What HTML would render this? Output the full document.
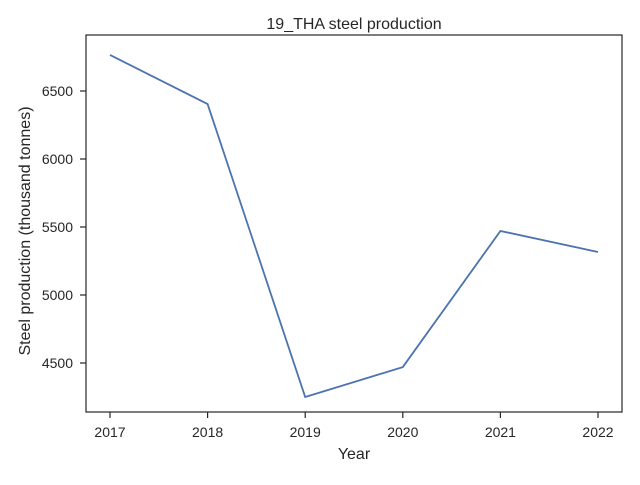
<!DOCTYPE html>
<html><head><meta charset="utf-8"><style>
body{margin:0;background:#fff;}
svg text{font-family:"Liberation Sans","DejaVu Sans",sans-serif;fill:#262626;}
</style></head><body>
<svg id="chart" width="640" height="480" xmlns="http://www.w3.org/2000/svg">
<rect width="640" height="480" fill="#fff"/>
<text x="354" y="29" font-size="16" text-anchor="middle">19_THA steel production</text>
<text x="354" y="459" font-size="16" text-anchor="middle">Year</text>
<text transform="translate(30,231) rotate(-90)" font-size="16" text-anchor="middle">Steel production (thousand tonnes)</text>
<g id="ticks"></g>
<path id="line" fill="none" stroke="#4c72b0" stroke-width="1.8"/>
<rect x="86" y="35" width="536" height="377" fill="none" stroke="#262626" stroke-width="1.2"/>
</svg>
<script>
const years = [2017, 2018, 2019, 2020, 2021, 2022];
const production = [6765, 6404, 4250, 4470, 5471, 5316];
const yTicks = [4500, 5000, 5500, 6000, 6500];

function xScale(v){ return 110 + (v - 2017) * (598 - 110) / 5; }
function yScale(v){ return 363 - (v - 4500) * (363 - 91) / 2000; }

const ns = "http://www.w3.org/2000/svg";
const g = document.getElementById('ticks');
function mk(tag, attrs){ const e = document.createElementNS(ns, tag); for (const k in attrs) e.setAttribute(k, attrs[k]); g.appendChild(e); return e; }

years.forEach(yr => {
  const x = xScale(yr);
  const t = mk('line', {x1:x, x2:x, y1:412, y2:418, stroke:'#262626', 'stroke-width':1.2});
  
  
  const l = mk('text', {x:x, y:437, 'font-size':14, 'text-anchor':'middle'});
  l.textContent = yr;
  
  
});
yTicks.forEach(v => {
  const y = yScale(v);
  const t = mk('line', {x1:80, x2:86, y1:y, y2:y, stroke:'#262626', 'stroke-width':1.2});
  
  
  const l = mk('text', {x:73, y:y + 5, 'font-size':14, 'text-anchor':'end'});
  l.textContent = v;
  
  
});
document.getElementById('line').setAttribute('d',
  years.map((yr, i) => (i ? 'L' : 'M') + xScale(yr) + ',' + yScale(production[i])).join(' '));
</script>
</body></html>
